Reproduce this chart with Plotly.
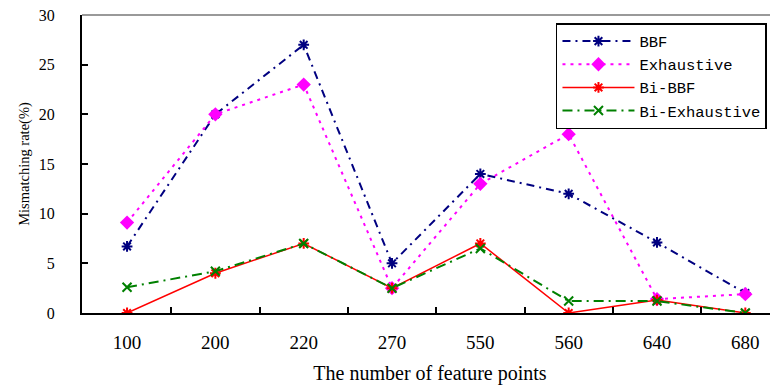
import plotly.graph_objects as go

categories = ["100", "200", "220", "270", "550", "560", "640", "680"]
bbf = [6.7, 20, 27, 5, 14, 12, 7.1, 2]
exhaustive = [9.1, 20, 23, 2.5, 13, 18, 1.4, 1.9]
bi_bbf = [0, 4, 7, 2.5, 7, 0, 1.3, 0]
bi_exhaustive = [2.6, 4.2, 7, 2.5, 6.5, 1.2, 1.2, 0]

font_serif = "Liberation Serif, Times New Roman, serif"

fig = go.Figure()
fig.add_trace(go.Scatter(
    x=categories, y=bbf, name="BBF", mode="lines+markers",
    line=dict(color="#000080", width=2, dash="8px,5px,2px,5px"),
    marker=dict(symbol="asterisk-open", size=9, color="#000080", line=dict(width=2, color="#000080"))))
fig.add_trace(go.Scatter(
    x=categories, y=exhaustive, name="Exhaustive", mode="lines+markers",
    line=dict(color="#FF00FF", width=2, dash="3px,5px"),
    marker=dict(symbol="diamond", size=11, color="#FF00FF")))
fig.add_trace(go.Scatter(
    x=categories, y=bi_bbf, name="Bi-BBF", mode="lines+markers",
    line=dict(color="#FF0000", width=1.5),
    marker=dict(symbol="asterisk-open", size=9, color="#FF0000", line=dict(width=2, color="#FF0000"))))
fig.add_trace(go.Scatter(
    x=categories, y=bi_exhaustive, name="Bi-Exhaustive", mode="lines+markers",
    line=dict(color="#008000", width=2, dash="10px,5px,2px,5px"),
    marker=dict(symbol="x-thin-open", size=9, color="#008000", line=dict(width=2, color="#008000"))))

# grey top frame line
fig.add_shape(type="line", xref="paper", yref="paper", x0=0, x1=1, y0=1, y1=1,
              line=dict(color="#999999", width=2))

fig.update_layout(
    width=770, height=380,
    margin=dict(l=74, r=0, t=7, b=75, autoexpand=False),
    paper_bgcolor="white", plot_bgcolor="white",
    font=dict(family=font_serif, size=16, color="black"),
    showlegend=True,
    legend=dict(x=0.681, xanchor="left", y=0.973, yanchor="top",
                bgcolor="white", bordercolor="black", borderwidth=1.5,
                font=dict(family="Liberation Mono, monospace", size=15.5),
                tracegroupgap=0, itemwidth=72),
    xaxis=dict(type="category", range=[-0.51, 7.37], showline=True, linecolor="black", linewidth=2,
               ticks="inside", tickson="boundaries", ticklen=6, tickcolor="black", tickwidth=1.5,
               showgrid=False, zeroline=False, automargin=False, ticklabelstandoff=11,
               title=dict(text="The number of feature points", font=dict(size=20), standoff=14),
               tickfont=dict(size=19)),
    yaxis=dict(range=[0, 30], tickvals=[0, 5, 10, 15, 20, 25, 30], showline=True, linecolor="black", linewidth=2,
               ticks="inside", ticklen=6, tickcolor="black", tickwidth=1.5,
               showgrid=False, zeroline=False, automargin=False, ticklabelstandoff=22,
               ticklabeloverflow="allow",
               title=dict(text="Mismatching rate(%)", font=dict(size=14.5), standoff=6),
               tickfont=dict(size=16)),
)

fig.write_html("out.html")
